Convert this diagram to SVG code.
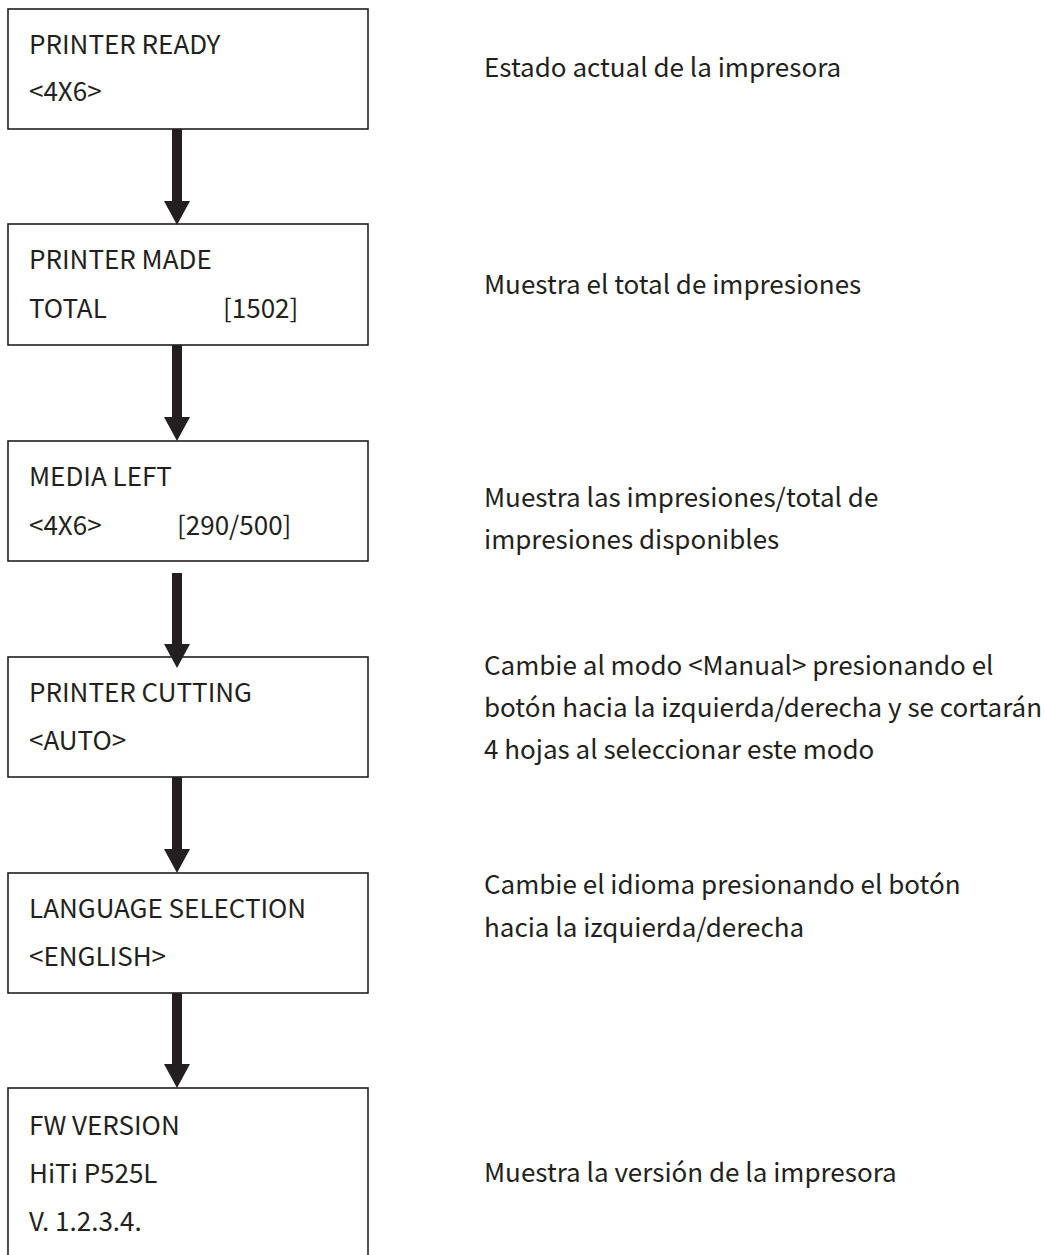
<svg xmlns="http://www.w3.org/2000/svg" width="1045" height="1255" viewBox="0 0 1045 1255">
  <style>
    .box { fill: #ffffff; stroke: #231f20; stroke-width: 1.6; }
    .t { font-family: "Noto Sans CJK SC", "Noto Sans", "Liberation Sans", sans-serif; font-size: 26px; fill: #231f20; }
    .conn { stroke: #231f20; stroke-width: 10; fill: none; }
  </style>
  <defs>
    <marker id="head" markerUnits="userSpaceOnUse" markerWidth="24" markerHeight="26" viewBox="0 0 24 26" refX="1" refY="13" orient="auto">
      <path d="M0,0 L24,13 L0,26 Z" fill="#231f20"/>
    </marker>
  </defs>
  <rect width="1045" height="1255" fill="#ffffff"/>

  <g id="node-printer-ready">
    <rect class="box" x="8" y="9" width="360" height="120"/>
    <text class="t" x="29" y="54">PRINTER READY</text>
    <text class="t" x="29" y="101">&lt;4X6&gt;</text>
  </g>
  <g id="node-printer-made">
    <rect class="box" x="8" y="224" width="360" height="121"/>
    <text class="t" x="29" y="269">PRINTER MADE</text>
    <text class="t" x="29" y="318">TOTAL</text>
    <text class="t" x="223" y="318">[1502]</text>
  </g>
  <g id="node-media-left">
    <rect class="box" x="8" y="441" width="360" height="120"/>
    <text class="t" x="29" y="486">MEDIA LEFT</text>
    <text class="t" x="29" y="535">&lt;4X6&gt;</text>
    <text class="t" x="177" y="535">[290/500]</text>
  </g>
  <g id="node-printer-cutting">
    <rect class="box" x="8" y="657" width="360" height="120"/>
    <text class="t" x="29" y="702">PRINTER CUTTING</text>
    <text class="t" x="29" y="750">&lt;AUTO&gt;</text>
  </g>
  <g id="node-language-selection">
    <rect class="box" x="8" y="873" width="360" height="120"/>
    <text class="t" x="29" y="918">LANGUAGE SELECTION</text>
    <text class="t" x="29" y="966">&lt;ENGLISH&gt;</text>
  </g>
  <g id="node-fw-version">
    <rect class="box" x="8" y="1088" width="360" height="200"/>
    <text class="t" x="29" y="1135">FW VERSION</text>
    <text class="t" x="29" y="1183">HiTi P525L</text>
    <text class="t" x="29" y="1231">V. 1.2.3.4.</text>
  </g>

  <g id="descriptions">
    <text class="t" x="484" y="77">Estado actual de la impresora</text>
    <text class="t" x="484" y="294">Muestra el total de impresiones</text>
    <text class="t" x="484" y="507">Muestra las impresiones/total de</text>
    <text class="t" x="484" y="549">impresiones disponibles</text>
    <text class="t" x="484" y="675">Cambie al modo &lt;Manual&gt; presionando el</text>
    <text class="t" x="484" y="717">botón hacia la izquierda/derecha y se cortarán</text>
    <text class="t" x="484" y="759">4 hojas al seleccionar este modo</text>
    <text class="t" x="484" y="894">Cambie el idioma presionando el botón</text>
    <text class="t" x="484" y="937">hacia la izquierda/derecha</text>
    <text class="t" x="484" y="1182">Muestra la versión de la impresora</text>
  </g>

  <g id="connectors">
    <line class="conn" x1="177" y1="129" x2="177" y2="202" marker-end="url(#head)"/>
    <line class="conn" x1="177" y1="345" x2="177" y2="418" marker-end="url(#head)"/>
    <line class="conn" x1="177" y1="573" x2="177" y2="645" marker-end="url(#head)"/>
    <line class="conn" x1="177" y1="777" x2="177" y2="850" marker-end="url(#head)"/>
    <line class="conn" x1="177" y1="993" x2="177" y2="1065" marker-end="url(#head)"/>
  </g>
</svg>
